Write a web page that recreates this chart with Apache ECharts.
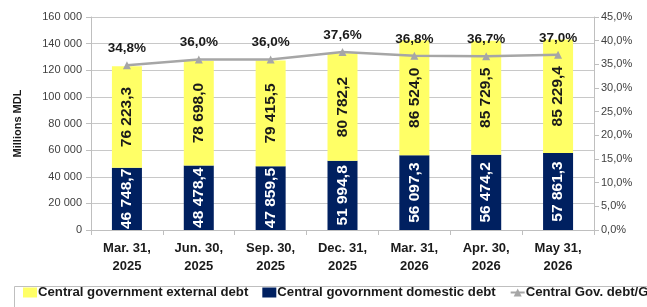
<!DOCTYPE html>
<html>
<head>
<meta charset="utf-8">
<script src="https://cdn.jsdelivr.net/npm/echarts@6/dist/echarts.min.js"></script>
<style>
  html, body { margin: 0; padding: 0; background: #fff; }
  #main { width: 647px; height: 307px; }
</style>
</head>
<body>
<div id="main"></div>
<script>
  // data
  var categories = ['Mar. 31,\n2025', 'Jun. 30,\n2025', 'Sep. 30,\n2025', 'Dec. 31,\n2025', 'Mar. 31,\n2026', 'Apr. 30,\n2026', 'May 31,\n2026']
  var domesticDebt = [46748.7, 48478.4, 47859.5, 51994.8, 56097.3, 56474.2, 57861.3]
  var externalDebt = [76223.3, 78698.0, 79415.5, 80782.2, 86524.0, 85729.5, 85229.4]
  var debtToGdp = [34.8, 36.0, 36.0, 37.6, 36.8, 36.7, 37.0]

  var FONT = '"Liberation Sans", Arial, sans-serif'

  // 1234.5 -> "1 234,5"
  function fmtNum (v, digits) {
    var s = v.toFixed(digits)
    var parts = s.split('.')
    var intPart = parts[0].replace(/\B(?=(\d{3})+(?!\d))/g, ' ')
    return parts.length > 1 ? intPart + ',' + parts[1] : intPart
  }

  var myChart = echarts.init(document.getElementById('main'))
  var option = {
    animation: false,
    textStyle: { fontFamily: FONT },
    grid: { left: 91, right: 53, top: 17, bottom: 77 },
    legend: {
      left: 23,
      top: 286,
      width: 900,
      itemWidth: 14,
      itemHeight: 10,
      itemGap: 14,
      padding: 0,
      textStyle: { fontSize: 13.2, fontWeight: 600, color: '#1a1a1a', fontFamily: FONT, padding: [0, 0, 0, -4] },
      data: [
        { name: 'Central government external debt', icon: 'rect' },
        { name: 'Central govornment domestic debt', icon: 'rect' },
        { name: 'Central Gov. debt/GDP' }
      ]
    },
    graphic: [{
      type: 'rect',
      left: 12,
      top: 284,
      shape: { width: 700, height: 40 },
      style: { fill: 'none', stroke: '#bfbfbf', lineWidth: 1 },
      silent: true
    }],
    xAxis: {
      type: 'category',
      data: categories,
      axisLine: { lineStyle: { color: '#bfbfbf' } },
      axisTick: { show: true, length: 5, lineStyle: { color: '#bfbfbf' } },
      axisLabel: { color: '#1a1a1a', fontSize: 13, fontWeight: 'bold', lineHeight: 18, margin: 9 }
    },
    yAxis: [
      {
        type: 'value',
        min: 0,
        max: 160000,
        interval: 20000,
        name: 'Millions MDL',
        nameLocation: 'middle',
        nameGap: 68,
        nameTextStyle: { fontSize: 11, fontWeight: 'bold', color: '#1a1a1a' },
        axisLine: { show: true, lineStyle: { color: '#bfbfbf' } },
        axisTick: { show: true, length: 5, lineStyle: { color: '#bfbfbf' } },
        axisLabel: { color: '#404040', fontSize: 11, margin: 9, formatter: function (v) { return fmtNum(v, 0) } },
        splitLine: { lineStyle: { color: '#c8c8c8' } }
      },
      {
        type: 'value',
        min: 0,
        max: 45,
        interval: 5,
        axisLine: { show: true, lineStyle: { color: '#bfbfbf' } },
        axisTick: { show: true, length: 5, lineStyle: { color: '#bfbfbf' } },
        axisLabel: { color: '#404040', fontSize: 11, margin: 7, formatter: function (v) { return v.toFixed(1).replace('.', ',') + '%' } },
        splitLine: { show: false }
      }
    ],
    series: [
      {
        name: 'Central govornment domestic debt',
        type: 'bar',
        stack: 'debt',
        barWidth: 30,
        data: domesticDebt,
        itemStyle: { color: '#002060' },
        label: {
          show: true,
          position: 'inside',
          rotate: 90,
          color: '#fff',
          fontSize: 15.5,
          fontWeight: 'bold',
          formatter: function (p) { return fmtNum(p.value, 1) }
        }
      },
      {
        name: 'Central government external debt',
        type: 'bar',
        stack: 'debt',
        barWidth: 30,
        data: externalDebt,
        itemStyle: { color: '#ffff66' },
        label: {
          show: true,
          position: 'inside',
          rotate: 90,
          color: '#1a1a1a',
          fontSize: 15.5,
          fontWeight: 'bold',
          formatter: function (p) { return fmtNum(p.value, 1) }
        }
      },
      {
        name: 'Central Gov. debt/GDP',
        type: 'line',
        yAxisIndex: 1,
        data: debtToGdp,
        z: 5,
        symbol: 'triangle',
        symbolSize: 8,
        lineStyle: { color: '#a6a6a6', width: 2.5 },
        itemStyle: { color: '#a6a6a6' },
        label: {
          show: true,
          position: 'top',
          distance: 6,
          color: '#1a1a1a',
          fontSize: 13.5,
          fontWeight: 'bold',
          formatter: function (p) { return p.value.toFixed(1).replace('.', ',') + '%' }
        }
      }
    ]
  }
  myChart.setOption(option)
</script>
</body>
</html>
